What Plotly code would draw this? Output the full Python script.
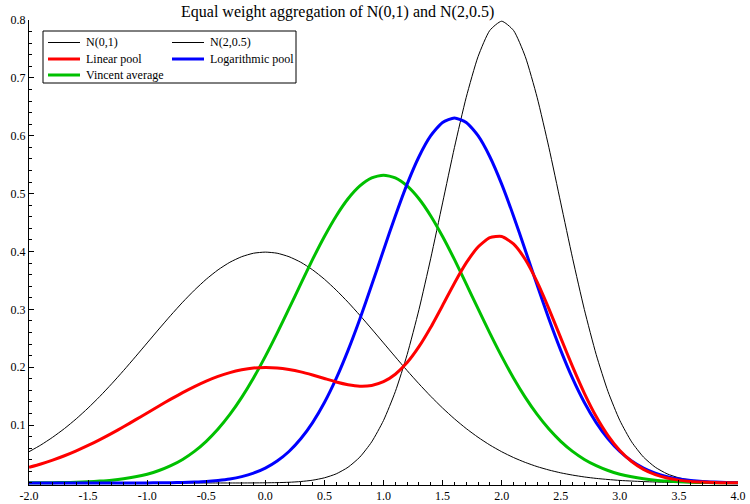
import plotly.graph_objects as go

# x grid (-2.0 .. 4.0, step 0.1)
x = [round(-2.0 + 0.1 * i, 1) for i in range(61)]

n01 = [0.0540, 0.0656, 0.0790, 0.0940, 0.1109, 0.1295, 0.1497, 0.1714, 0.1942, 0.2179,
       0.2420, 0.2661, 0.2897, 0.3123, 0.3332, 0.3521, 0.3683, 0.3814, 0.3910, 0.3970,
       0.3989, 0.3970, 0.3910, 0.3814, 0.3683, 0.3521, 0.3332, 0.3123, 0.2897, 0.2661,
       0.2420, 0.2179, 0.1942, 0.1714, 0.1497, 0.1295, 0.1109, 0.0940, 0.0790, 0.0656,
       0.0540, 0.0440, 0.0355, 0.0283, 0.0224, 0.0175, 0.0136, 0.0104, 0.0079, 0.0060,
       0.0044, 0.0033, 0.0024, 0.0017, 0.0012, 0.0009, 0.0006, 0.0004, 0.0003, 0.0002,
       0.0001]

n2_05 = [0.0, 0.0, 0.0, 0.0, 0.0, 0.0, 0.0, 0.0, 0.0, 0.0,
         0.0, 0.0, 0.0, 0.0, 0.0, 0.0, 0.0, 0.0, 0.0, 0.0001,
         0.0003, 0.0006, 0.0012, 0.0025, 0.0048, 0.0089, 0.0158, 0.0272, 0.0448, 0.0710,
         0.1080, 0.1579, 0.2218, 0.2995, 0.3884, 0.4839, 0.5794, 0.6664, 0.7366, 0.7821,
         0.7979, 0.7821, 0.7366, 0.6664, 0.5794, 0.4839, 0.3884, 0.2995, 0.2218, 0.1579,
         0.1080, 0.0710, 0.0448, 0.0272, 0.0158, 0.0089, 0.0048, 0.0025, 0.0012, 0.0006,
         0.0003]

linear_pool = [0.0270, 0.0328, 0.0395, 0.0470, 0.0555, 0.0648, 0.0749, 0.0857, 0.0971, 0.1090,
               0.1210, 0.1331, 0.1449, 0.1562, 0.1666, 0.1761, 0.1842, 0.1907, 0.1955, 0.1986,
               0.1996, 0.1988, 0.1961, 0.1920, 0.1866, 0.1805, 0.1745, 0.1698, 0.1673, 0.1686,
               0.1750, 0.1879, 0.2080, 0.2355, 0.2691, 0.3067, 0.3452, 0.3802, 0.4078, 0.4239,
               0.4260, 0.4131, 0.3861, 0.3474, 0.3009, 0.2507, 0.2010, 0.1550, 0.1149, 0.0820,
               0.0562, 0.0372, 0.0236, 0.0145, 0.0085, 0.0049, 0.0027, 0.0015, 0.0008, 0.0004,
               0.0002]

log_pool = [0.0, 0.0, 0.0, 0.0, 0.0, 0.0, 0.0, 0.0, 0.0, 0.0001,
            0.0001, 0.0003, 0.0005, 0.0008, 0.0015, 0.0025, 0.0043, 0.0069, 0.0110, 0.0170,
            0.0257, 0.0379, 0.0544, 0.0763, 0.1043, 0.1390, 0.1807, 0.2292, 0.2834, 0.3419,
            0.4022, 0.4615, 0.5165, 0.5637, 0.6000, 0.6230, 0.6308, 0.6230, 0.6000, 0.5637,
            0.5165, 0.4615, 0.4022, 0.3419, 0.2834, 0.2292, 0.1807, 0.1390, 0.1043, 0.0763,
            0.0544, 0.0379, 0.0257, 0.0170, 0.0110, 0.0069, 0.0043, 0.0025, 0.0015, 0.0008,
            0.0005]

vincent = [0.0002, 0.0003, 0.0005, 0.0008, 0.0013, 0.0021, 0.0032, 0.0048, 0.0072, 0.0106,
           0.0152, 0.0215, 0.0299, 0.0407, 0.0546, 0.0720, 0.0932, 0.1184, 0.1479, 0.1814,
           0.2187, 0.2589, 0.3011, 0.3441, 0.3863, 0.4259, 0.4614, 0.4911, 0.5133, 0.5272,
           0.5319, 0.5272, 0.5133, 0.4911, 0.4614, 0.4259, 0.3863, 0.3441, 0.3011, 0.2589,
           0.2187, 0.1814, 0.1479, 0.1184, 0.0932, 0.0720, 0.0546, 0.0407, 0.0299, 0.0215,
           0.0152, 0.0106, 0.0072, 0.0048, 0.0032, 0.0021, 0.0013, 0.0008, 0.0005, 0.0003,
           0.0002]

names = ["N(0,1)", "N(2,0.5)", "Linear pool", "Logarithmic pool", "Vincent average"]
colors = ["#000000", "#000000", "#ff0000", "#0000ff", "#00c000"]
widths = [1, 1, 3, 3, 3]
series = [n01, n2_05, linear_pool, log_pool, vincent]

xticks = [-2.0, -1.5, -1.0, -0.5, 0.0, 0.5, 1.0, 1.5, 2.0, 2.5, 3.0, 3.5, 4.0]
yticks = [0.1, 0.2, 0.3, 0.4, 0.5, 0.6, 0.7, 0.8]
title = "Equal weight aggregation of N(0,1) and N(2,0.5)"

FONT = "Liberation Serif"

fig = go.Figure()
draw_order = [0, 1, 4, 3, 2]
for i in draw_order:
    fig.add_trace(go.Scatter(x=x, y=series[i], mode="lines", name=names[i],
                             line=dict(color=colors[i], width=widths[i], shape="spline", smoothing=0.6),
                             showlegend=False, hoverinfo="skip"))

W, H = 750, 504
ml, mr, mt, mb = 29, 12, 20, 19

fig.update_layout(
    width=W, height=H,
    margin=dict(l=ml, r=mr, t=mt, b=mb, autoexpand=False),
    paper_bgcolor="white", plot_bgcolor="white",
    font=dict(family=FONT, size=12, color="black"),
    showlegend=False,
)
fig.update_xaxes(range=[-2, 4], tickvals=xticks, ticktext=[f"{v:.1f}" for v in xticks],
                 automargin=False,
                 showgrid=False, zeroline=False, showline=True, linecolor="black", linewidth=1,
                 ticks="inside", ticklen=5, tickcolor="black", tickwidth=1,
                 minor=dict(ticks="inside", ticklen=3, dtick=0.1, tick0=0, tickcolor="black", showgrid=False),
                 tickfont=dict(family=FONT, size=12))
fig.update_yaxes(range=[-0.0035, 0.8], tickvals=yticks, ticktext=[f"{v:.1f}" for v in yticks],
                 automargin=False,
                 showgrid=False, zeroline=False, showline=True, linecolor="black", linewidth=1,
                 ticks="inside", ticklen=5, tickcolor="black", tickwidth=1,
                 minor=dict(ticks="inside", ticklen=3, dtick=0.02, tick0=0, tickcolor="black", showgrid=False),
                 tickfont=dict(family=FONT, size=12))

pw, ph = W - ml - mr, H - mt - mb
def px(xp):
    return (xp - ml) / pw
def py(yp):
    return 1 - (yp - mt) / ph

# title as annotation (pixel-placed)
fig.add_annotation(text=title, xref="paper", yref="paper",
                   x=px(337), y=py(12),
                   xanchor="center", yanchor="middle", showarrow=False,
                   font=dict(family=FONT, size=16, color="black"))

# legend (drawn manually, two columns)
fig.add_shape(type="rect", xref="paper", yref="paper",
              x0=px(43), x1=px(296), y0=py(31), y1=py(83),
              line=dict(color="black", width=1), fillcolor="white", layer="above")
legend_pos = [(48, 42.5), (172, 42.5), (48, 59), (172, 59), (48, 75)]
for i, (lx, ly) in enumerate(legend_pos):
    fig.add_shape(type="line", xref="paper", yref="paper",
                  x0=px(lx), x1=px(lx + 32), y0=py(ly), y1=py(ly),
                  line=dict(color=colors[i], width=widths[i]), layer="above")
    fig.add_annotation(text=names[i], xref="paper", yref="paper",
                       x=px(lx + 36), y=py(ly), xanchor="left", yanchor="middle",
                       showarrow=False, font=dict(family=FONT, size=12, color="black"))

fig.write_html("out.html", config={"displayModeBar": False},
               post_script="document.body.style.margin='0';document.body.style.overflow='hidden';")
